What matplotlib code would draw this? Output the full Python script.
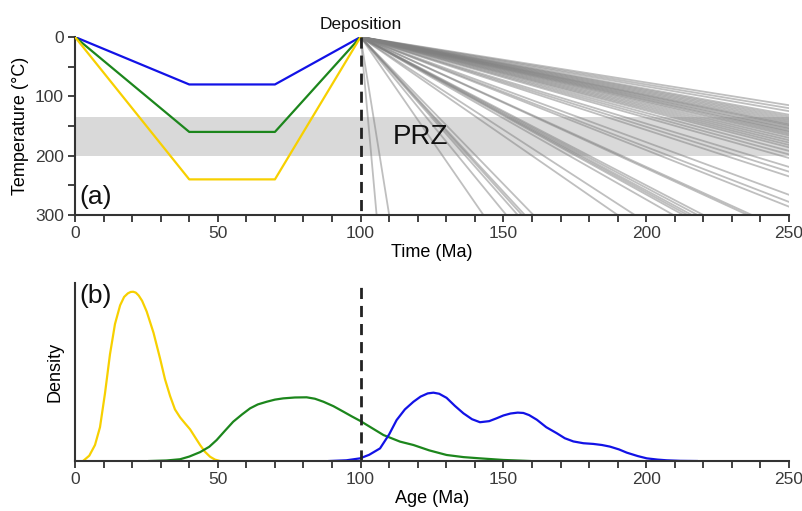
import numpy as np
import matplotlib
matplotlib.use("Agg")
import matplotlib.pyplot as plt
from matplotlib.ticker import MultipleLocator

plt.rcParams['font.family'] = ['Liberation Sans', 'DejaVu Sans']

# --- (a) thermal histories before deposition ---
path_time = [0, 40, 70, 100]
path_blue = [0, 80, 80, 0]
path_green = [0, 160, 160, 0]
path_yellow = [0, 240, 240, 0]

prz_top, prz_bottom = 135, 200
deposition_age = 100

# post-depositional burial paths (all start at 100 Ma, 0 degC)
exit_time_at_300 = [105.6, 110, 143, 151, 155, 156.5, 157.5, 160.5, 190, 196,
                    209.5, 213, 214.5, 216, 218, 220, 235.5, 237]
exit_temp_at_250 = [115, 120, 125, 131, 134, 137, 140, 143, 146, 148, 150, 153,
                    155, 158, 160, 163, 166, 170, 174, 178, 182, 186, 192, 198,
                    204, 219, 227, 235, 266, 278, 286]

# --- (b) age density curves (arbitrary units) ---
yellow_age = [2.8, 5, 7, 8.75, 10.5, 12.25, 14, 15.8, 17.2, 18.5, 19.5, 20.4,
              21.3, 22.3, 23.5, 25.1, 27.5, 29.8, 31.5, 33.3, 35, 36.8, 38.5,
              40.3, 42, 43.8, 45.5, 47.3, 49, 50.8]
yellow_den = [0, 0.03, 0.09, 0.19, 0.38, 0.6, 0.77, 0.875, 0.922, 0.942, 0.95,
              0.951, 0.946, 0.93, 0.9, 0.84, 0.72, 0.575, 0.46, 0.365, 0.29,
              0.245, 0.212, 0.178, 0.135, 0.09, 0.052, 0.024, 0.008, 0]
green_age = [26, 32, 36.8, 40, 43.8, 47, 49.6, 52.5, 55.4, 58.5, 61.3, 64, 67.1,
             70, 72.9, 77, 81.1, 84, 87, 90.5, 94, 97, 99.8, 104, 108, 113.8,
             118.5, 124, 130.1, 136, 141.8, 150, 159.3]
green_den = [0, 0.003, 0.01, 0.025, 0.05, 0.08, 0.118, 0.17, 0.221, 0.262, 0.296,
             0.318, 0.333, 0.345, 0.352, 0.357, 0.358, 0.35, 0.333, 0.308, 0.277,
             0.25, 0.226, 0.185, 0.146, 0.109, 0.09, 0.06, 0.034, 0.022, 0.015,
             0.006, 0]
blue_age = [89, 95, 99.8, 103, 106.8, 110, 112.6, 115.5, 118.5, 121, 123.5,
            125.5, 127.5, 130.1, 133, 136, 139, 141.8, 145, 147.6, 150, 152.5,
            155, 157, 159, 161.7, 165, 168.7, 171.5, 174.5, 178, 181.5, 184.5,
            187.3, 190.5, 193.2, 197, 200.2, 204, 207.2, 212, 217.7]
blue_den = [0, 0.004, 0.015, 0.035, 0.071, 0.15, 0.23, 0.29, 0.333, 0.362,
            0.38, 0.384, 0.378, 0.355, 0.31, 0.268, 0.235, 0.218, 0.224, 0.24,
            0.256, 0.267, 0.272, 0.27, 0.258, 0.232, 0.19, 0.156, 0.128, 0.11,
            0.1, 0.096, 0.09, 0.081, 0.065, 0.047, 0.028, 0.015, 0.008, 0.004,
            0.001, 0]

c_blue = '#1212e6'
c_green = '#1c861c'
c_yellow = '#f7d000'
c_axis = '#333333'

fig = plt.figure(figsize=(8.03, 5.11), dpi=100)
ax1 = fig.add_axes([0.0934, 0.5793, 0.8892, 0.3483])
ax2 = fig.add_axes([0.0934, 0.0978, 0.8892, 0.3483])

# top panel
ax1.axhspan(prz_top, prz_bottom, color='#d9d9d9', lw=0, zorder=0)
for t in exit_time_at_300:
    ax1.plot([deposition_age, t], [0, 300], color='#808080', alpha=0.5, lw=1.3, zorder=1)
for T in exit_temp_at_250:
    ax1.plot([deposition_age, 250], [0, T], color='#808080', alpha=0.5, lw=1.3, zorder=1)
ax1.plot(path_time, path_blue, color=c_blue, lw=1.6, zorder=3)
ax1.plot(path_time, path_green, color=c_green, lw=1.6, zorder=3)
ax1.plot(path_time, path_yellow, color=c_yellow, lw=1.6, zorder=3)
ax1.plot([deposition_age, deposition_age], [0, 300], color='#222222', lw=2,
         ls=(0, (4, 2.5)), zorder=4)
ax1.text(121, 168, 'PRZ', fontsize=20, ha='center', va='center', color='#111111')
ax1.text(1.5, 270, '(a)', fontsize=19, ha='left', va='center', color='#111111')
ax1.text(100, -9, 'Deposition', fontsize=12.5, ha='center', va='bottom', color='#111111')
ax1.set_xlim(0, 250)
ax1.set_ylim(300, 0)
ax1.yaxis.set_major_locator(MultipleLocator(100))
ax1.yaxis.set_minor_locator(MultipleLocator(50))
ax1.set_ylabel('Temperature (°C)', fontsize=13, labelpad=4)
ax1.set_xlabel('Time (Ma)', fontsize=13, labelpad=2)

# bottom panel
ax2.plot(yellow_age, yellow_den, color=c_yellow, lw=1.6)
ax2.plot(green_age, green_den, color=c_green, lw=1.6)
ax2.plot(blue_age, blue_den, color=c_blue, lw=1.6)
ax2.plot([deposition_age, deposition_age], [0, 1], color='#222222', lw=2,
         ls=(0, (4, 2.5)))
ax2.text(1.5, 0.93, '(b)', fontsize=19, ha='left', va='center', color='#111111')
ax2.set_xlim(0, 250)
ax2.set_ylim(0, 1)
ax2.set_yticks([])
ax2.set_ylabel('Density', fontsize=13, labelpad=8)
ax2.set_xlabel('Age (Ma)', fontsize=13, labelpad=2)

for ax in (ax1, ax2):
    ax.spines['top'].set_visible(False)
    ax.spines['right'].set_visible(False)
    for s in ('left', 'bottom'):
        ax.spines[s].set_color(c_axis)
        ax.spines[s].set_linewidth(1.5)
    ax.xaxis.set_major_locator(MultipleLocator(50))
    ax.xaxis.set_minor_locator(MultipleLocator(10))
    ax.tick_params(which='both', direction='out', length=5, width=1.3,
                   color=c_axis, labelsize=12.5, labelcolor='#3a3a3a', pad=3)

fig.savefig('out.png', dpi=100)
